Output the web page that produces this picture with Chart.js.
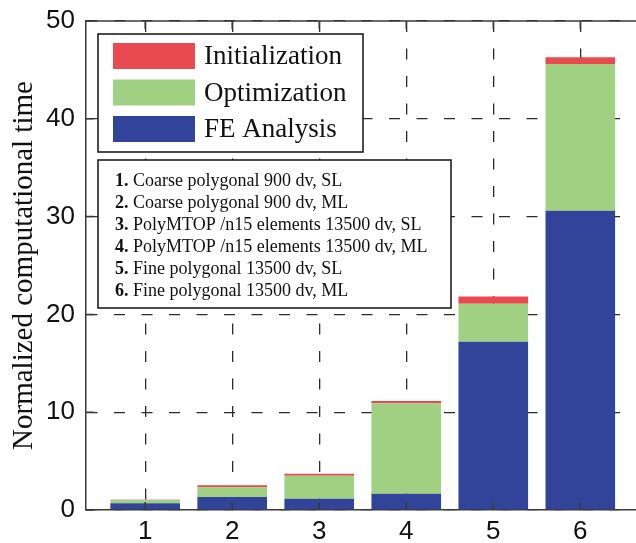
<!DOCTYPE html>
<html><head><meta charset="utf-8">
<script src="https://cdn.jsdelivr.net/npm/chart.js@4"></script>
<style>html,body{margin:0;padding:0;background:#fff;overflow:hidden}#wrap{width:636px;height:543px}</style>
</head><body><div id="wrap"><canvas id="c" width="636" height="543"></canvas></div>
<script>
const categories = ['1', '2', '3', '4', '5', '6'];
const feAnalysis = [0.68, 1.33, 1.15, 1.66, 17.2, 30.6];
const optimization = [0.37, 1.0, 2.35, 9.26, 3.9, 15.0];
const initialization = [0.02, 0.2, 0.2, 0.23, 0.74, 0.7];
const yTicks = [0, 10, 20, 30, 40, 50];
const seriesLabels = ['FE Analysis', 'Optimization', 'Initialization'];
const seriesColors = ['#31449A', '#A0D183', '#E94A4F'];
const caseNumbers = ['1.', '2.', '3.', '4.', '5.', '6.'];
const caseNames = [
  'Coarse polygonal 900 dv, SL',
  'Coarse polygonal 900 dv, ML',
  'PolyMTOP /n15 elements 13500 dv, SL',
  'PolyMTOP /n15 elements 13500 dv, ML',
  'Fine polygonal 13500 dv, SL',
  'Fine polygonal 13500 dv, ML'
];
const yTitle = 'Normalized computational time';

const seriesValues = [feAnalysis, optimization, initialization];
const datasets = seriesValues.map((vals, s) => ({
  label: seriesLabels[s],
  data: categories.map((c, i) => ({x: i + 1, y: vals[i]})),
  backgroundColor: seriesColors[s],
  borderWidth: 0,
  barPercentage: 0.8,
  categoryPercentage: 1.0
}));

const serif = '"Liberation Serif", "Times New Roman", serif';
const sans = '"Liberation Sans", Arial, sans-serif';

const overlay = {
  id: 'overlay',
  afterDraw(chart) {
    const ctx = chart.ctx;
    const a = chart.chartArea;
    const xs = chart.scales.x, ys = chart.scales.y;
    ctx.save();
    // top border
    ctx.strokeStyle = '#3a3a3a';
    ctx.lineWidth = 1.5;
    ctx.beginPath();
    ctx.moveTo(a.left, a.top); ctx.lineTo(a.right, a.top);
    ctx.stroke();
    // inward ticks
    ctx.beginPath();
    yTicks.forEach(v => {
      const y = ys.getPixelForValue(v);
      ctx.moveTo(a.left, y); ctx.lineTo(a.left + 8, y);
    });
    categories.forEach((c, i) => {
      const x = xs.getPixelForValue(i + 1);
      ctx.moveTo(x, a.bottom); ctx.lineTo(x, a.bottom - 8);
      ctx.moveTo(x, a.top); ctx.lineTo(x, a.top + 8);
    });
    ctx.stroke();

    // legend box
    ctx.fillStyle = '#fff';
    ctx.fillRect(98, 34, 265, 118);
    ctx.strokeStyle = '#111';
    ctx.lineWidth = 1.5;
    ctx.strokeRect(98, 34, 265, 118);
    const ds = chart.data.datasets;
    ctx.font = '27px ' + serif;
    ctx.textBaseline = 'middle';
    ctx.textAlign = 'left';
    for (let k = 0; k < ds.length; k++) {
      const d = ds[ds.length - 1 - k];
      const y = 43 + k * 36.5;
      ctx.fillStyle = d.backgroundColor;
      ctx.fillRect(113, y, 82, 26);
      ctx.fillStyle = '#111';
      ctx.fillText(d.label, 204, y + 14);
    }

    // description box
    ctx.fillStyle = '#fff';
    ctx.fillRect(98, 160, 353, 148);
    ctx.strokeRect(98, 160, 353, 148);
    ctx.textBaseline = 'alphabetic';
    ctx.fillStyle = '#111';
    caseNames.forEach((name, i) => {
      const y = 186 + i * 22;
      ctx.font = 'bold 18px ' + serif;
      ctx.fillText(caseNumbers[i], 115, y);
      const w = ctx.measureText(caseNumbers[i] + ' ').width;
      ctx.font = '18px ' + serif;
      ctx.fillText(name, 115 + w, y);
    });
    ctx.restore();
  }
};

const gridOpts = {color: '#2b2b2b', lineWidth: 1.3, drawTicks: false, offset: false};
const borderOpts = {display: true, color: '#3a3a3a', width: 1.5, dash: [11, 16.5]};

new Chart(document.getElementById('c'), {
  type: 'bar',
  data: {datasets},
  options: {
    responsive: false,
    animation: false,
    devicePixelRatio: 1,
    layout: {padding: {top: 21, right: 0, left: 0, bottom: 0}},
    plugins: {legend: {display: false}, tooltip: {enabled: false}},
    scales: {
      x: {
        type: 'linear', stacked: true, min: 0.32, max: 6.64, z: 1, offset: false,
        afterBuildTicks: s => { s.ticks = categories.map((c, i) => ({value: i + 1})); },
        afterFit: s => { s.height = 33; },
        ticks: {
          callback: v => categories[Math.round(v) - 1] ?? '',
          font: {family: sans, size: 26}, color: '#111', padding: 6,
          autoSkip: false, maxRotation: 0
        },
        grid: gridOpts,
        border: borderOpts
      },
      y: {
        stacked: true, min: 0, max: 50, z: 1,
        afterBuildTicks: s => { s.ticks = yTicks.map(v => ({value: v})); },
        afterFit: s => { s.width = 86; },
        ticks: {font: {family: sans, size: 26, lineHeight: 0.76}, color: '#111', padding: 11},
        grid: gridOpts,
        border: borderOpts,
        title: {display: true, text: yTitle, font: {family: serif, size: 29}, color: '#111', padding: {top: 7, bottom: 0}}
      }
    }
  },
  plugins: [overlay]
});
</script>
</body></html>
